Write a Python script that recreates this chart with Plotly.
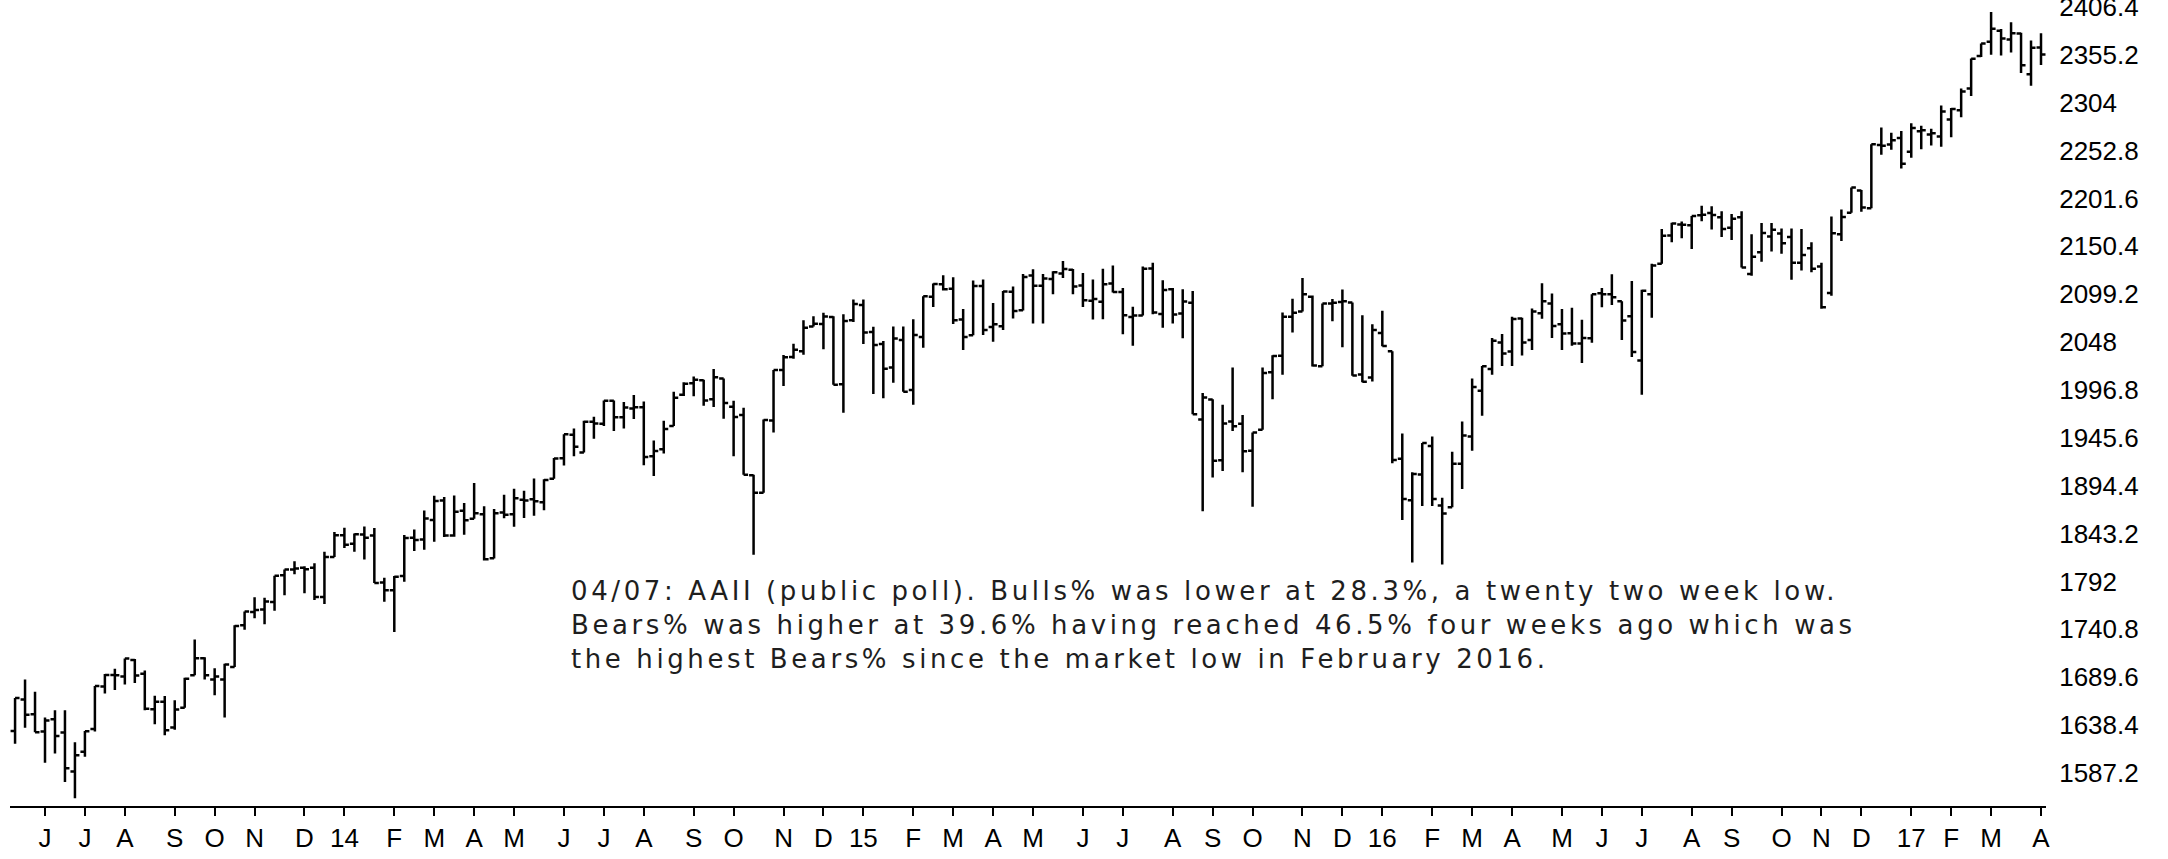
import pandas as pd
import plotly.graph_objects as go

# Weekly bars (week ending Friday), S&P 500, May 2013 - Apr 2017
weeks = pd.date_range("2013-05-17", "2017-04-07", freq="W-FRI")

opens = [
    1632.0, 1665.7, 1650.0, 1631.7, 1644.7, 1630.6, 1588.8, 1609.8, 1634.2, 1679.6, 1692.1,
    1690.3, 1708.0, 1693.4, 1655.3, 1663.4, 1635.9, 1656.9, 1691.7, 1709.9, 1687.3, 1687.2,
    1700.5, 1745.2, 1759.4, 1762.0, 1770.0, 1798.8, 1804.8, 1806.6, 1806.6, 1775.4, 1818.3,
    1841.5, 1832.3, 1842.3, 1841.1, 1791.0, 1782.7, 1798.0, 1838.8, 1836.8, 1857.7, 1878.5,
    1841.1, 1867.7, 1859.2, 1863.9, 1816.8, 1865.8, 1863.8, 1879.5, 1880.0, 1876.7, 1902.0,
    1923.9, 1949.0, 1930.0, 1962.9, 1960.8, 1985.3, 1967.7, 1977.1, 1978.3, 1926.0, 1933.4,
    1958.4, 1991.7, 2004.1, 2007.2, 1986.8, 2009.1, 1979.0, 1970.0, 1905.7, 1886.8, 1964.1,
    2018.2, 2032.0, 2038.3, 2064.7, 2067.5, 2074.8, 2002.9, 2071.3,
    2087.6, 2058.9, 2046.1, 2020.8, 2050.4, 1996.7, 2053.5, 2096.5, 2109.8, 2105.2, 2072.3,
    2055.4, 2108.0, 2064.1, 2064.9, 2102.0, 2082.1, 2119.3, 2108.4, 2115.6, 2121.3, 2125.3,
    2108.6, 2092.3, 2091.3, 2110.6, 2101.5, 2075.0, 2076.6, 2126.8, 2078.2, 2104.5, 2078.6,
    2090.0, 1965.2, 1986.7, 1921.8, 1963.1, 1960.8, 1931.9, 1954.3, 2015.7, 2033.5, 2075.1,
    2080.8, 2096.6, 2022.1, 2089.4, 2091.0, 2090.4, 2013.4, 2010.3, 2057.8,
    2038.2, 1923.3, 1878.9, 1906.3, 1936.9, 1873.3, 1871.4, 1917.8, 1947.1, 1996.1, 2019.3,
    2047.6, 2037.9, 2073.2, 2050.2, 2078.8, 2089.4, 2067.2, 2057.6, 2046.5, 2052.2, 2100.4,
    2099.3, 2091.8, 2075.6, 2028.4, 2099.3, 2131.7, 2162.0, 2173.7, 2173.0, 2183.7, 2186.1,
    2181.6, 2170.2, 2181.6, 2120.9, 2144.0, 2160.9, 2164.3, 2160.4, 2133.0, 2148.5, 2129.0,
    2100.6, 2163.3, 2186.4, 2210.2, 2191.3, 2258.8, 2259.4, 2266.2,
    2251.6, 2273.6, 2270.0, 2267.8, 2286.0, 2295.9, 2319.2, 2354.0, 2369.2, 2380.9, 2371.6,
    2378.2, 2334.6, 2363.0,
]
highs = [
    1667.5, 1687.2, 1674.2, 1646.5, 1654.2, 1654.2, 1620.1, 1632.1, 1680.2, 1693.1, 1698.8,
    1709.7, 1709.2, 1696.8, 1669.8, 1669.5, 1664.9, 1689.0, 1729.9, 1711.0, 1699.3, 1704.0,
    1745.3, 1759.8, 1775.2, 1774.5, 1798.2, 1804.8, 1813.6, 1808.4, 1811.5, 1823.8, 1844.9,
    1849.4, 1843.2, 1850.8, 1849.3, 1796.0, 1798.0, 1841.7, 1847.5, 1867.9, 1883.6, 1882.4,
    1884.0, 1875.9, 1897.3, 1872.5, 1869.6, 1884.9, 1891.3, 1889.1, 1902.2, 1901.3, 1924.0,
    1949.4, 1955.6, 1963.9, 1968.2, 1985.6, 1985.6, 1983.9, 1991.4, 1984.6, 1942.9, 1964.0,
    1994.8, 2005.0, 2011.2, 2007.7, 2019.3, 2009.1, 1985.2, 1977.8, 1906.1, 1965.3, 2018.2,
    2034.3, 2046.2, 2071.5, 2075.8, 2079.5, 2075.8, 2077.9, 2093.6,
    2093.6, 2064.4, 2049.3, 2064.6, 2064.6, 2072.4, 2097.0, 2110.6, 2119.6, 2117.5, 2083.5,
    2113.9, 2114.9, 2089.8, 2102.6, 2107.6, 2120.9, 2125.9, 2120.9, 2123.9, 2134.7, 2126.2,
    2121.9, 2115.0, 2126.6, 2129.9, 2106.0, 2085.8, 2129.0, 2132.8, 2114.2, 2105.8, 2104.6,
    2102.7, 1993.5, 1987.0, 1981.0, 2020.9, 1970.0, 1951.4, 2020.9, 2034.1, 2079.7, 2094.3,
    2116.5, 2097.9, 2089.3, 2094.1, 2104.3, 2090.4, 2076.7, 2067.0, 2081.6,
    2038.2, 1950.3, 1908.9, 1940.2, 1947.2, 1881.6, 1930.7, 1963.0, 2009.1, 2022.4, 2052.4,
    2056.6, 2075.1, 2074.0, 2083.9, 2111.1, 2099.9, 2083.4, 2084.9, 2071.9, 2099.1, 2105.9,
    2120.6, 2091.8, 2113.3, 2104.1, 2131.7, 2169.1, 2175.6, 2177.1, 2182.9, 2193.8, 2193.4,
    2187.9, 2184.9, 2187.9, 2163.3, 2175.3, 2175.3, 2169.6, 2169.6, 2169.1, 2154.8, 2133.0,
    2182.3, 2189.9, 2213.4, 2210.6, 2259.5, 2277.5, 2272.0, 2273.8,
    2282.1, 2279.3, 2276.1, 2301.0, 2298.3, 2319.2, 2351.3, 2367.3, 2401.0, 2382.9, 2390.0,
    2379.0, 2370.7, 2378.4,
]
lows = [
    1618.5, 1635.5, 1630.7, 1598.2, 1608.1, 1577.7, 1560.3, 1604.6, 1631.7, 1672.3, 1676.0,
    1681.9, 1683.4, 1654.4, 1639.4, 1627.5, 1633.4, 1656.9, 1691.7, 1687.1, 1670.4, 1646.5,
    1700.5, 1740.5, 1752.7, 1746.2, 1760.6, 1777.2, 1799.8, 1779.4, 1772.3, 1768.0, 1818.3,
    1827.7, 1823.7, 1815.5, 1790.3, 1770.4, 1737.9, 1791.8, 1824.6, 1825.9, 1834.4, 1839.6,
    1839.8, 1842.1, 1859.2, 1814.4, 1816.7, 1859.7, 1850.6, 1859.8, 1862.4, 1868.1, 1902.0,
    1916.0, 1925.9, 1930.0, 1944.7, 1958.2, 1952.9, 1955.6, 1965.8, 1916.4, 1904.8, 1928.8,
    1958.4, 1990.5, 1990.1, 1979.9, 1978.5, 1966.0, 1926.0, 1906.1, 1820.7, 1886.8, 1951.4,
    2001.0, 2030.2, 2034.5, 2064.7, 2040.5, 2002.3, 1972.6, 2069.4,
    2046.0, 1992.4, 1988.1, 2004.5, 1995.0, 1980.9, 2041.9, 2085.6, 2103.2, 2067.3, 2039.7,
    2055.4, 2055.6, 2048.4, 2061.0, 2073.3, 2081.8, 2067.9, 2067.9, 2099.2, 2116.7, 2099.2,
    2085.7, 2072.1, 2072.5, 2101.2, 2056.3, 2044.0, 2076.6, 2077.9, 2063.5, 2067.9, 2052.1,
    1970.9, 1867.0, 1903.1, 1910.2, 1953.0, 1908.8, 1871.9, 1954.3, 1987.0, 2013.0, 2058.3,
    2080.8, 2022.0, 2022.1, 2070.3, 2042.4, 2012.0, 2005.1, 2005.9, 2043.6,
    1918.5, 1857.8, 1812.3, 1872.7, 1872.7, 1810.1, 1871.4, 1891.0, 1931.8, 1969.3, 2013.0,
    2022.5, 2022.5, 2033.8, 2039.7, 2073.0, 2052.3, 2039.5, 2044.0, 2025.7, 2047.3, 2085.4,
    2087.6, 2050.4, 2032.1, 1991.7, 2074.0, 2131.7, 2154.8, 2159.1, 2147.6, 2177.2, 2168.5,
    2160.4, 2157.1, 2127.8, 2119.1, 2133.9, 2145.0, 2142.6, 2114.7, 2124.6, 2122.8, 2083.8,
    2097.6, 2156.1, 2186.4, 2187.4, 2191.3, 2248.4, 2253.8, 2233.6,
    2245.1, 2254.3, 2258.4, 2257.0, 2267.2, 2288.6, 2311.1, 2352.9, 2355.3, 2354.5, 2357.8,
    2335.8, 2322.3, 2344.5,
]
closes = [
    1667.5, 1649.6, 1630.7, 1643.4, 1626.7, 1592.4, 1606.3, 1631.9, 1680.2, 1692.1, 1691.7,
    1709.7, 1691.4, 1655.8, 1663.5, 1633.0, 1655.2, 1688.0, 1709.9, 1691.8, 1690.5, 1703.2,
    1744.5, 1759.8, 1761.6, 1770.6, 1798.2, 1804.8, 1805.8, 1805.1, 1775.3, 1818.3, 1841.4,
    1831.4, 1842.4, 1838.7, 1790.3, 1782.6, 1797.0, 1838.6, 1836.3, 1859.5, 1878.0, 1841.1,
    1866.5, 1857.6, 1865.1, 1815.7, 1864.9, 1863.4, 1881.1, 1878.5, 1877.9, 1900.5, 1923.6,
    1949.4, 1936.2, 1962.9, 1961.0, 1985.4, 1967.6, 1978.2, 1978.3, 1925.2, 1931.6, 1955.1,
    1988.4, 2003.4, 2007.7, 1985.5, 2010.4, 1982.9, 1967.9, 1906.1, 1886.8, 1964.6, 2018.1,
    2031.9, 2039.8, 2063.5, 2067.6, 2075.4, 2002.3, 2070.7, 2088.8,
    2058.2, 2044.8, 2019.4, 2051.8, 1995.0, 2055.5, 2097.0, 2110.3, 2104.5, 2071.3, 2053.4,
    2108.1, 2061.0, 2067.0, 2102.1, 2081.2, 2117.7, 2108.3, 2116.1, 2122.7, 2126.1, 2107.4,
    2092.8, 2094.1, 2110.0, 2101.5, 2076.8, 2076.6, 2126.6, 2079.7, 2103.8, 2077.6, 2091.5,
    1970.9, 1988.9, 1921.2, 1961.1, 1958.0, 1931.3, 1951.4, 2014.9, 2033.1, 2075.2, 2079.4,
    2099.2, 2023.0, 2089.2, 2090.1, 2091.7, 2012.4, 2005.6, 2061.0, 2043.9,
    1922.0, 1880.3, 1906.9, 1940.2, 1880.1, 1864.8, 1917.8, 1948.1, 2000.0, 2022.2, 2049.6,
    2035.9, 2072.8, 2047.6, 2080.7, 2091.6, 2065.3, 2057.1, 2046.6, 2052.3, 2099.1, 2099.1,
    2096.1, 2071.2, 2037.4, 2103.0, 2129.9, 2161.7, 2175.0, 2173.6, 2182.9, 2184.1, 2183.9,
    2169.0, 2180.0, 2127.8, 2139.2, 2164.7, 2168.3, 2153.7, 2133.0, 2141.2, 2126.4, 2085.2,
    2164.5, 2181.9, 2213.4, 2192.0, 2259.5, 2258.1, 2263.8, 2238.8,
    2277.0, 2274.6, 2271.3, 2294.7, 2297.4, 2316.1, 2351.2, 2367.3, 2383.1, 2372.6, 2378.3,
    2344.0, 2362.7, 2355.5,
]

price_ticks = [1587.2 + 51.2 * k for k in range(17)]
month_letters = ["J", "F", "M", "A", "M", "J", "J", "A", "S", "O", "N", "D"]
note_lines = [
    "04/07: AAII (public poll). Bulls% was lower at 28.3%, a twenty two week low.",
    "Bears% was higher at 39.6% having reached 46.5% four weeks ago which was",
    "the highest Bears% since the market low in February 2016.",
]

# ---- axis ticks: first weekly bar of each month ----
tickvals, ticktext = [], []
for prev, cur in zip(weeks[:-1], weeks[1:]):
    if cur.month != prev.month:
        tickvals.append(cur)
        ticktext.append(f"{cur.year % 100:02d}" if cur.month == 1 else month_letters[cur.month - 1])

price_text = [("%.1f" % v).rstrip("0").rstrip(".") for v in price_ticks]

W, H = 2168, 859
L, R, T, B = 10, 122, 0, 53
plot_w = W - L - R
plot_h = H - T - B

px_per_day = 1996 / 1400.0
x0 = pd.Timestamp("2013-06-07") - pd.Timedelta(days=35 / px_per_day)
x1 = x0 + pd.Timedelta(days=plot_w / px_per_day)

axis_font = dict(family="Liberation Sans, Arial, sans-serif", size=26, color="black")

fig = go.Figure(
    go.Ohlc(
        x=weeks, open=opens, high=highs, low=lows, close=closes,
        increasing=dict(line=dict(color="black", width=2.5)),
        decreasing=dict(line=dict(color="black", width=2.5)),
        tickwidth=0.45, hoverinfo="skip", showlegend=False,
    )
)

for i, line in enumerate(note_lines):
    ypix = 591 + 34 * i
    fig.add_annotation(
        xref="paper", yref="paper",
        x=(569 - L) / plot_w, y=1 - (ypix - T) / plot_h,
        xanchor="left", yanchor="middle", align="left",
        text=line, showarrow=False,
        font=dict(family="DejaVu Sans, Verdana, sans-serif", size=26, color="#1e1e1e"),
    )

fig.update_layout(
    width=W, height=H,
    margin=dict(l=L, r=R, t=T, b=B, pad=0, autoexpand=False),
    paper_bgcolor="white", plot_bgcolor="white",
    showlegend=False,
    xaxis=dict(
        type="date", range=[x0, x1], automargin=False,
        rangeslider=dict(visible=False),
        tickvals=tickvals, ticktext=ticktext, tickangle=0,
        ticks="outside", ticklen=8, tickwidth=1.5, tickcolor="black",
        showline=True, linecolor="black", linewidth=2,
        showgrid=False, zeroline=False,
        tickfont=axis_font,
    ),
    yaxis=dict(
        side="right", range=[1551.9, 2413.9], automargin=False,
        tickvals=price_ticks, ticktext=price_text,
        ticks="outside", ticklen=7, tickcolor="rgba(0,0,0,0)",
        ticklabeloverflow="allow",
        showgrid=False, zeroline=False, showline=False,
        tickfont=axis_font,
    ),
)

post = (
    "document.body.style.margin='0';"
    "document.querySelectorAll('.annotation-text').forEach(function(e){"
    "e.setAttribute('text-anchor','start');"
    "e.style.letterSpacing='3.6px';});"
)
fig.write_html("out.html", config={"displayModeBar": False}, post_script=post)
